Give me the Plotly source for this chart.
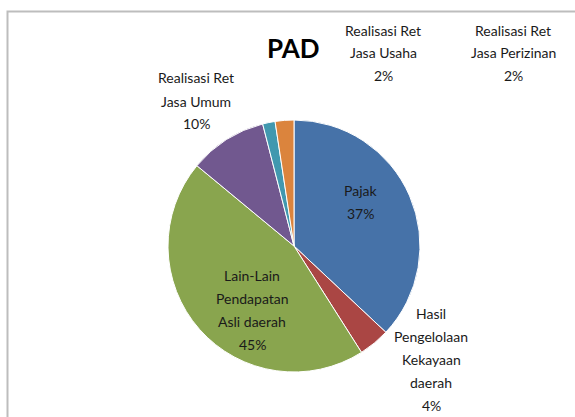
import plotly.graph_objects as go

labels = ["Pajak", "Hasil Pengelolaan Kekayaan daerah", "Lain-Lain Pendapatan Asli daerah",
          "Realisasi Ret Jasa Umum", "Realisasi Ret Jasa Usaha", "Realisasi Ret Jasa Perizinan"]
values = [37, 4, 45, 10, 1.6, 2.4]
pct_text = ["37%", "4%", "45%", "10%", "2%", "2%"]
label_lines = [["Pajak"], ["Hasil", "Pengelolaan", "Kekayaan", "daerah"],
               ["Lain-Lain", "Pendapatan", "Asli daerah"], ["Realisasi Ret", "Jasa Umum"],
               ["Realisasi Ret", "Jasa Usaha"], ["Realisasi Ret", "Jasa Perizinan"]]
colors = ["#4672A8", "#AA4644", "#89A54E", "#71588F", "#4198AF", "#DB843D"]

# first-line centre position of each label block (pixels in 575x417 canvas)
label_pos = [(360, 190), (431, 313), (252, 275), (196, 78), (383, 30), (513, 30)]
line_h = 23

W, H = 575, 417
cx, cy, r = 294, 246, 126

fig = go.Figure(go.Pie(
    labels=labels, values=values, sort=False, direction="clockwise", rotation=0,
    marker=dict(colors=colors, line=dict(color="white", width=1)),
    textinfo="none", hoverinfo="label+percent", showlegend=False,
    domain=dict(x=[(cx - r) / W, (cx + r) / W], y=[(H - cy - r) / H, (H - cy + r) / H]),
))

font = "Lato, sans-serif"
for lines, pct, (px, py) in zip(label_lines, pct_text, label_pos):
    for i, t in enumerate(lines + [pct]):
        fig.add_annotation(
            x=px / W, y=1 - (py + i * line_h) / H, xref="paper", yref="paper",
            text=t, showarrow=False,
            font=dict(family=font, size=14, color="#1a1a1a"),
            xanchor="center", yanchor="middle",
        )

fig.add_annotation(x=293 / W, y=1 - 48 / H, xref="paper", yref="paper", text="<b>PAD</b>",
                   showarrow=False, font=dict(family=font, size=26, color="#000000"),
                   xanchor="center", yanchor="middle")

fig.add_shape(type="rect", xref="paper", yref="paper", x0=7.5 / W, x1=1.05, y0=-0.05, y1=1 - 11.5 / H,
              line=dict(color="#BDBDBD", width=2), fillcolor="rgba(0,0,0,0)")

fig.update_layout(width=W, height=H, margin=dict(l=0, r=0, t=0, b=0),
                  paper_bgcolor="white", plot_bgcolor="white")
fig.write_html("out.html", config={"displayModeBar": False},
               post_script="document.body.style.margin='0';")
